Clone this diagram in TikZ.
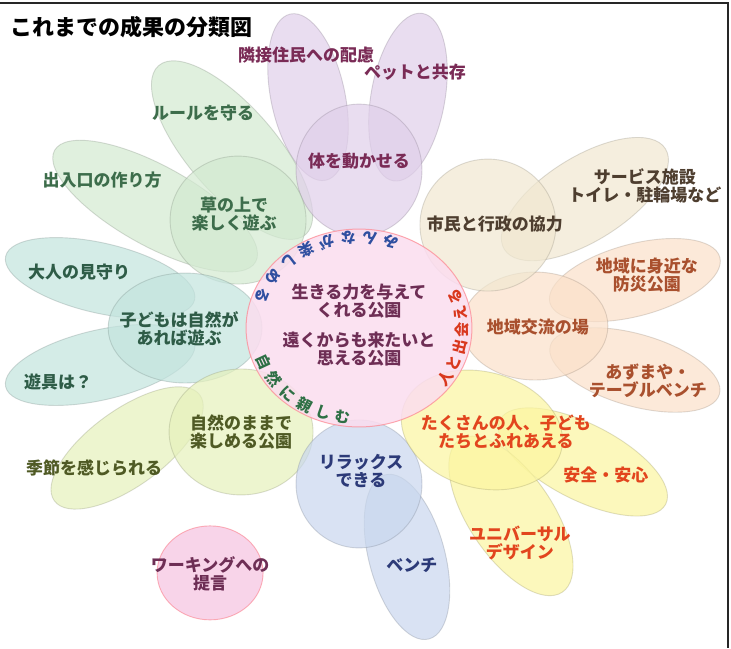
\documentclass[tikz,border=0pt]{standalone}
\usepackage{fontspec}
\setmainfont{Noto Sans CJK JP}
\usetikzlibrary{positioning}
\usetikzlibrary{decorations.text}
\usetikzlibrary{calc}

\definecolor{lilac}{HTML}{E0CFEA}
\definecolor{mint}{HTML}{D3EAD1}
\definecolor{aqua}{HTML}{C3E4DE}
\definecolor{lime}{HTML}{E6F1BC}
\definecolor{sky}{HTML}{C9D7EE}
\definecolor{lemon}{HTML}{FCF6A0}
\definecolor{peach}{HTML}{FBE1CA}
\definecolor{sand}{HTML}{F1E8D1}
\definecolor{blush}{HTML}{FBDDEF}
\definecolor{rose}{HTML}{F8D4E9}

\definecolor{plumtext}{HTML}{7A2B56}
\definecolor{greentext}{HTML}{3D6D4B}
\definecolor{tealtext}{HTML}{2E5C47}
\definecolor{olivetext}{HTML}{4F5A24}
\definecolor{navytext}{HTML}{2C3A78}
\definecolor{redtext}{HTML}{E2451E}
\definecolor{rusttext}{HTML}{A9502E}
\definecolor{browntext}{HTML}{4E3E2F}
\definecolor{winetext}{HTML}{6E2E55}
\definecolor{ringblue}{HTML}{2F4FA0}
\definecolor{ringred}{HTML}{D9381E}
\definecolor{ringgreen}{HTML}{2E7045}

\tikzset{petal/.style={fill=#1, draw=#1!60!black, fill opacity=0.7, draw opacity=0.3, line width=0.9pt}}
\tikzstyle{word}=[font=\bfseries\fontsize{17}{18.5}\selectfont, align=center, inner sep=0pt]
\tikzstyle{heart}=[fill=blush, draw=blush!60!red, fill opacity=0.85, draw opacity=0.7, line width=1pt]

\begin{document}
\begin{tikzpicture}[x=1pt, y=1pt]

   \draw[fill=white,draw=white] (0,0) rectangle (731,648);
   \useasboundingbox (0,0) rectangle (731,648);

    % outer petals
    \foreach \x/\y/\a/\b/\r/\c in {308/551/37/85/12/lilac, 408/551/37/85/-10/lilac,
        232/498/112/44/-49/mint, 155/442/115/40/-29/mint,
        100/370/97/35/-13/aqua, 100/283/97/35/13/aqua,
        127/200/90/38/36/lime, 407/91/38/85/15/sky,
        583/186/93/38/-27/lemon, 511/132/92/42/-56/lemon,
        635/368/88/36/15/peach, 635/278/88/36/-16/peach,
        585/449/95/42/32/sand}
        \draw[petal=\c, rotate around={\r:(\x,\y)}] (\x,\y) ellipse ({\a} and {\b});

    % inner petals
    \foreach \x/\y/\a/\b/\r/\c in {359/478/63/66/0/lilac, 238/428/68/64/0/mint,
        185/320/77/55/0/aqua, 241/216/72/63/0/lime, 359/164/63/64/0/sky,
        482/218/82/58/-15/lemon, 535/322/73/54/0/peach, 488/423/68/66/0/sand}
        \draw[petal=\c, rotate around={\r:(\x,\y)}] (\x,\y) ellipse ({\a} and {\b});

  \coordinate (cc) at (359,320);
  \draw[heart] (cc) ellipse (113 and 99);
  \draw[fill=rose, draw=rose!60!red, draw opacity=0.6, line width=0.9pt] (210,75) ellipse (53 and 47);

  \node[anchor=west, inner sep=0pt, font=\bfseries\fontsize{22}{24}\selectfont] (title) at (10,621) {これまでの成果の分類図};

    \foreach \pos/\name/\txt/\col in {{(306,593)/neighbour/隣接住民への配慮/plumtext}, {(415,576)/pet/ペットと共存/plumtext},
        {(359,487)/body/体を動かせる/plumtext}, {(203,535)/rule/ルールを守る/greentext},
        {(102,468)/gate/出入口の作り方/greentext}, {(234,434)/grass/{草の上で\\楽しく遊ぶ}/greentext},
        {(495,424)/civic/市民と行政の協力/browntext}, {(645,462)/service/{サービス施設\\トイレ・駐輪場など}/browntext},
        {(647,373)/disaster/{地域に身近な\\防災公園}/rusttext}, {(538,321)/exchange/地域交流の場/rusttext},
        {(648,267)/arbour/{あずまや・\\テーブルベンチ}/rusttext}, {(79,376)/watch/大人の見守り/tealtext},
        {(179,319)/kids/{子どもは自然が\\あれば遊ぶ}/tealtext}, {(58,266)/play/遊具は？/tealtext},
        {(241,216)/wild/{自然のままで\\楽しめる公園}/olivetext}, {(94,180)/season/季節を感じられる/olivetext},
        {(361,177)/relax/{リラックス\\できる}/navytext}, {(412,83)/bench/ベンチ/navytext},
        {(506,216)/meet/{たくさんの人、子ども\\たちとふれあえる}/redtext}, {(606,173)/safe/安全・安心/redtext},
        {(520,105)/ud/{ユニバーサル\\デザイン}/redtext}, {(210,74)/work/{ワーキングへの\\提言}/winetext},
        {(359,347)/power/{生きる力を与えて\\くれる公園}/winetext}, {(359,299)/far/{遠くからも来たいと\\思える公園}/winetext}}
        \node[word, text=\col] (\name) at \pos {\txt};

  \path[decorate, decoration={text along path, text align=fit to path,
      text={|\bfseries\fontsize{15}{15}\selectfont\color{ringblue}|みんなが楽しめる}}]
      ($(cc)+(68:109 and 96)$) arc (68:163:109 and 96);
  \path[decorate, decoration={text along path, text align=fit to path,
      text={|\bfseries\fontsize{15}{15}\selectfont\color{ringred}|人と出会える}}]
      ($(cc)+(-38:109 and 96)$) arc (-38:25:109 and 96);
  \path[decorate, decoration={text along path, text align=fit to path,
      text={|\bfseries\fontsize{15}{15}\selectfont\color{ringgreen}|自然に親しむ}}]
      ($(cc)+(198:109 and 96)$) arc (198:265:109 and 96);

  \draw[line width=2pt, black!85] (0,645) -- (728,645) -- (728,0);

\end{tikzpicture}
\end{document}
